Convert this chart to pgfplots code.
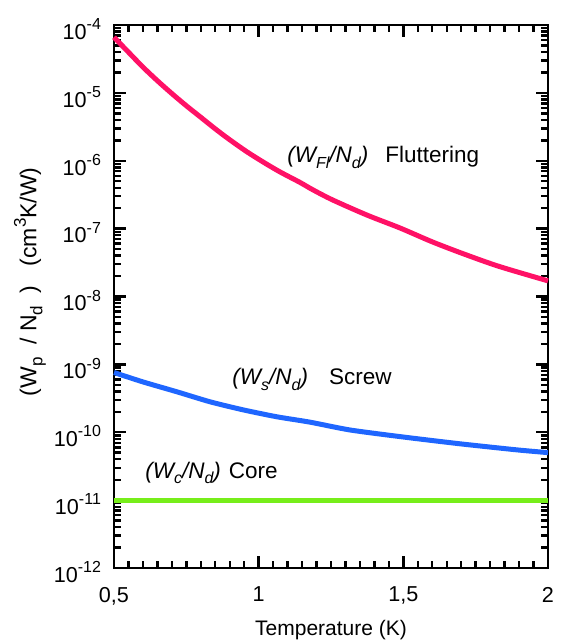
\documentclass[border=0pt]{standalone}
\usepackage{fontspec}
\setmainfont{Liberation Sans}
\usepackage{pgfplots}
\pgfplotsset{compat=1.18}
\definecolor{flut}{HTML}{FF1166}
\definecolor{screw}{HTML}{1F66FF}
\definecolor{core}{HTML}{77EE1A}
\newcommand\sub[1]{\raisebox{-0.45ex}{\fontsize{8}{8}\selectfont #1}}
\newcommand\ysub[1]{\raisebox{-0.5ex}{\fontsize{8.5}{8.5}\selectfont #1}}
\newcommand\tenpow[1]{10\raisebox{0.85ex}{\fontsize{8}{8}\selectfont #1}}
\begin{document}
\begin{tikzpicture}
\begin{axis}[
  at={(0,0)}, anchor=south west,
  scale only axis, width=217pt, height=271.5pt,
  xmin=0.5, xmax=2, ymode=log, ymin=1e-12, ymax=1e-4,
  xtick={0.5,1,1.5,2}, xticklabels={{0,5},1,{1,5},2},
  minor x tick num=9,
  ytick={1e-12,1e-11,1e-10,1e-9,1e-8,1e-7,1e-6,1e-5,1e-4},
  yticklabels={\tenpow{-12},\tenpow{-11},\tenpow{-10},\tenpow{-9},\tenpow{-8},\tenpow{-7},\tenpow{-6},\tenpow{-5},\tenpow{-4}},
  tick align=inside,
  major tick length=6pt, minor tick length=3.5pt,
  axis line style={line width=1.3pt},
  tick style={black, line width=1.2pt},
  ticklabel style={font=\fontsize{10.8}{12}\selectfont},
  yticklabel style={xshift=-3pt, yshift=-2pt},
  xticklabel style={yshift=-6pt},
  label style={font=\fontsize{10.5}{12}\selectfont},
  xlabel={Temperature (K)},
  xlabel style={at={(axis description cs:0.5,-0.1234)}, anchor=base},
  ylabel={(W\ysub{p}\ \ /\ N\ysub{d}\ \ )\ \ \ (cm\raisebox{0.85ex}{\fontsize{8.5}{8.5}\selectfont 3}K/W)},
  ylabel style={at={(axis description cs:-0.1935,0.527)}, anchor=center, font=\fontsize{11.5}{13}\selectfont},
  clip=false,
]
\addplot[flut, line width=2.5pt, smooth, tension=0.5] coordinates {
(0.5,6.61e-5) (0.55,3.98e-5) (0.60,2.40e-5) (0.65,1.51e-5) (0.70,9.77e-6)
(0.75,6.46e-6) (0.80,4.37e-6) (0.85,2.95e-6) (0.90,2.04e-6)
(0.96,1.35e-6) (1.02,9.33e-7) (1.074,6.84e-7) (1.143,4.79e-7) (1.188,3.72e-7)
(1.257,2.63e-7) (1.375,1.58e-7) (1.489,1.02e-7) (1.603,6.31e-8) (1.72,4.07e-8)
(1.834,2.75e-8) (2.0,1.70e-8)};
\addplot[screw, line width=2.5pt, smooth, tension=0.4] coordinates {
(0.5,7.59e-10) (0.6,5.52e-10) (0.718,3.94e-10) (0.832,2.81e-10) (0.946,2.14e-10)
(1.063,1.69e-10) (1.177,1.41e-10) (1.316,1.08e-10) (1.5,8.51e-11) (1.696,6.76e-11)
(1.893,5.50e-11) (2.0,5.01e-11)};
\addplot[core, line width=2.5pt] coordinates {(0.5,1e-11) (2.0,1e-11)};
\node[anchor=base west, inner sep=0pt, font=\fontsize{11.25}{13}\selectfont] at (axis cs:1.098,9.3e-7)
  {\textit{(W\sub{Fl}/N\sub{d})}\hspace{8.5pt}Fluttering};
\node[anchor=base west, inner sep=0pt, font=\fontsize{11.25}{13}\selectfont] at (axis cs:0.908,5.0e-10)
  {\textit{(W\sub{s}/N\sub{d})}\hspace{10.5pt}Screw};
\node[anchor=base west, inner sep=0pt, font=\fontsize{11.25}{13}\selectfont] at (axis cs:0.607,2.1e-11)
  {\textit{(W\sub{c}/N\sub{d})}\hspace{4pt}Core};
\end{axis}
\pgfresetboundingbox
\path (-57pt,-37pt) rectangle (224.5pt,284pt);
\end{tikzpicture}
\end{document}
